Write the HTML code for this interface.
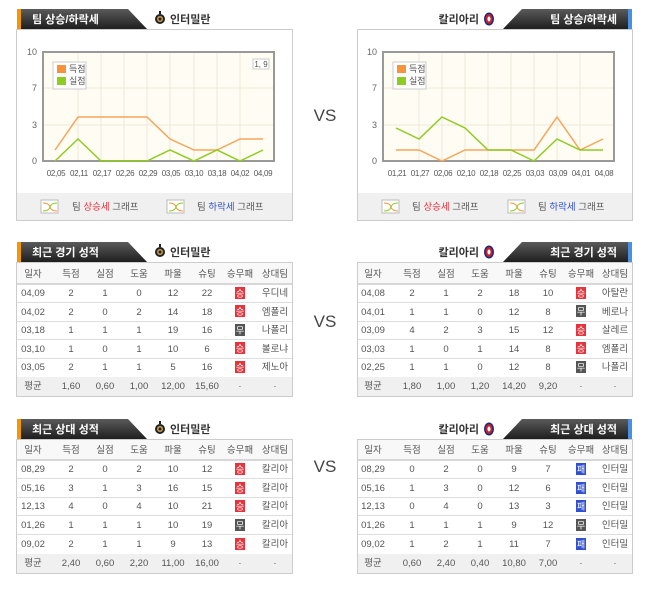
<!DOCTYPE html>
<html><head><meta charset="utf-8"><style>
html,body{margin:0;padding:0;background:#fff;width:650px;height:591px;overflow:hidden}
svg{display:block;font-family:"Liberation Sans","Noto Sans CJK KR",sans-serif}
</style></head><body>
<svg width="650" height="591" viewBox="0 0 650 591" xmlns="http://www.w3.org/2000/svg">
<defs>
<linearGradient id="tg" x1="0" y1="0" x2="0" y2="1"><stop offset="0" stop-color="#5a5a5a"/><stop offset="1" stop-color="#1e1e1e"/></linearGradient>
<g id="ico"><rect x="0" y="0" width="17" height="13" fill="#fff" stroke="#bbb"/><path d="M2 3 Q8 3 9 7 Q10 11 16 11" stroke="#f7933b" fill="none"/><path d="M2 11 Q8 11 9 7 Q10 3 16 3" stroke="#8dcc20" fill="none"/></g>
<g id="inter"><circle cx="0" cy="0" r="5" fill="#222"/><circle cx="0" cy="0" r="3" fill="#c9a24a"/><circle cx="0" cy="0" r="1.5" fill="#222"/><rect x="-1" y="-8" width="2" height="3" fill="#222"/></g>
<g id="cag"><ellipse cx="0" cy="0" rx="5" ry="6.5" fill="#1c2a7a"/><ellipse cx="0" cy="0" rx="3.5" ry="5" fill="#c8202a"/><ellipse cx="0" cy="0" rx="1.5" ry="2.5" fill="#fff"/></g>
<g id="W"><rect x="-5" y="-6" width="10" height="12" fill="#e8323c"/><text x="0" y="3.5" font-size="9" fill="#fff" text-anchor="middle">승</text></g>
<g id="D"><rect x="-5" y="-6" width="10" height="12" fill="#555"/><text x="0" y="3.5" font-size="9" fill="#fff" text-anchor="middle">무</text></g>
<g id="L"><rect x="-5" y="-6" width="10" height="12" fill="#3050d0"/><text x="0" y="3.5" font-size="9" fill="#fff" text-anchor="middle">패</text></g>
</defs>

<g font-size="17" fill="#444" text-anchor="middle"><text x="325" y="121">VS</text><text x="325" y="327">VS</text><text x="325" y="472">VS</text></g>

<!-- LEFT CHART -->
<rect x="16.5" y="29.5" width="276" height="191" fill="#fff" stroke="#ccc"/>
<polygon points="17,9 128,9 147,29 17,29" fill="url(#tg)"/><rect x="17" y="9" width="4" height="20" fill="#f39800"/>
<text x="32" y="23" font-size="11" font-weight="bold" fill="#fff">팀 상승/하락세</text>
<use href="#inter" x="160" y="19"/><text x="170" y="23" font-size="11" font-weight="bold" fill="#333">인터밀란</text>
<rect x="43" y="52" width="231" height="109" fill="#fffcf3" stroke="#999" stroke-width="2"/>
<g stroke="#eee8d8" stroke-width="1"><line x1="44" y1="88" x2="273" y2="88"/><line x1="44" y1="125" x2="273" y2="125"/>
<line x1="78" y1="53" x2="78" y2="160"/><line x1="101" y1="53" x2="101" y2="160"/><line x1="124" y1="53" x2="124" y2="160"/><line x1="147" y1="53" x2="147" y2="160"/><line x1="170" y1="53" x2="170" y2="160"/><line x1="194" y1="53" x2="194" y2="160"/><line x1="217" y1="53" x2="217" y2="160"/><line x1="240" y1="53" x2="240" y2="160"/></g>
<g font-size="9" fill="#666" text-anchor="end"><text x="37" y="55">10</text><text x="37" y="91">7</text><text x="37" y="128">3</text><text x="37" y="164">0</text></g>
<rect x="253" y="59" width="16" height="10" fill="#fff" stroke="#ccc"/><text x="261" y="67" font-size="8" fill="#555" text-anchor="middle">1, 9</text>
<rect x="53" y="62" width="33" height="27" fill="#fff" stroke="#ccc"/>
<rect x="57" y="65" width="9" height="8" fill="#f7933b"/><rect x="57" y="77" width="9" height="8" fill="#8dcc20"/>
<g font-size="9" fill="#555"><text x="69" y="72">득점</text><text x="69" y="84">실점</text></g>
<polyline points="55,150 78,117 101,117 124,117 147,117 170,139 194,150 217,150 240,139 263,139" fill="none" stroke="#f7a55a" stroke-width="1.5"/>
<polyline points="55,161 78,139 101,161 124,161 147,161 170,150 194,161 217,150 240,161 263,150" fill="none" stroke="#8dcc20" stroke-width="1.5"/>
<g font-size="8" fill="#555" text-anchor="middle" letter-spacing="-0.3"><text x="56" y="176">02,05</text><text x="79" y="176">02,11</text><text x="102" y="176">02,17</text><text x="125" y="176">02,26</text><text x="148" y="176">02,29</text><text x="171" y="176">03,05</text><text x="194" y="176">03,10</text><text x="217" y="176">03,18</text><text x="240" y="176">04,02</text><text x="263" y="176">04,09</text></g>
<rect x="17" y="193" width="275" height="27" fill="#f0f0f0"/>
<use href="#ico" x="41" y="200"/><text x="72" y="210" font-size="9.5" fill="#555">팀 <tspan fill="#e8323c">상승세</tspan> 그래프</text>
<use href="#ico" x="167" y="200"/><text x="197" y="210" font-size="9.5" fill="#555">팀 <tspan fill="#3050d0">하락세</tspan> 그래프</text>

<!-- RIGHT CHART -->
<rect x="357.5" y="29.5" width="275" height="191" fill="#fff" stroke="#ccc"/>
<polygon points="522,9 632,9 632,29 503,29" fill="url(#tg)"/><rect x="628" y="9" width="4" height="20" fill="#4a90e2"/>
<text x="617" y="23" font-size="11" font-weight="bold" fill="#fff" text-anchor="end">팀 상승/하락세</text>
<text x="479" y="23" font-size="11" font-weight="bold" fill="#333" text-anchor="end">칼리아리</text><use href="#cag" x="489" y="19"/>
<rect x="383" y="52" width="231" height="109" fill="#fffcf3" stroke="#999" stroke-width="2"/>
<g stroke="#eee8d8" stroke-width="1"><line x1="384" y1="88" x2="613" y2="88"/><line x1="384" y1="125" x2="613" y2="125"/>
<line x1="419" y1="53" x2="419" y2="160"/><line x1="442" y1="53" x2="442" y2="160"/><line x1="465" y1="53" x2="465" y2="160"/><line x1="488" y1="53" x2="488" y2="160"/><line x1="511" y1="53" x2="511" y2="160"/><line x1="534" y1="53" x2="534" y2="160"/><line x1="557" y1="53" x2="557" y2="160"/><line x1="580" y1="53" x2="580" y2="160"/></g>
<g font-size="9" fill="#666" text-anchor="end"><text x="377" y="55">10</text><text x="377" y="91">7</text><text x="377" y="128">3</text><text x="377" y="164">0</text></g>
<rect x="393" y="62" width="33" height="27" fill="#fff" stroke="#ccc"/>
<rect x="397" y="65" width="9" height="8" fill="#f7933b"/><rect x="397" y="77" width="9" height="8" fill="#8dcc20"/>
<g font-size="9" fill="#555"><text x="409" y="72">득점</text><text x="409" y="84">실점</text></g>
<polyline points="396,150 419,150 442,161 465,150 488,150 511,150 534,150 557,117 580,150 603,139" fill="none" stroke="#f7a55a" stroke-width="1.5"/>
<polyline points="396,128 419,139 442,117 465,128 488,150 511,150 534,161 557,139 580,150 603,150" fill="none" stroke="#8dcc20" stroke-width="1.5"/>
<g font-size="8" fill="#555" text-anchor="middle" letter-spacing="-0.3"><text x="397" y="176">01,21</text><text x="420" y="176">01,27</text><text x="443" y="176">02,06</text><text x="466" y="176">02,10</text><text x="489" y="176">02,18</text><text x="512" y="176">02,25</text><text x="535" y="176">03,03</text><text x="558" y="176">03,09</text><text x="581" y="176">04,01</text><text x="604" y="176">04,08</text></g>
<rect x="358" y="193" width="274" height="27" fill="#f0f0f0"/>
<use href="#ico" x="382" y="200"/><text x="412" y="210" font-size="9.5" fill="#555">팀 <tspan fill="#e8323c">상승세</tspan> 그래프</text>
<use href="#ico" x="508" y="200"/><text x="538" y="210" font-size="9.5" fill="#555">팀 <tspan fill="#3050d0">하락세</tspan> 그래프</text>

<!-- LEFT TABLE 1 -->
<polygon points="17,242 128,242 147,262 17,262" fill="url(#tg)"/><rect x="17" y="242" width="4" height="20" fill="#f39800"/>
<text x="32" y="256" font-size="11" font-weight="bold" fill="#fff">최근 경기 성적</text>
<use href="#inter" x="160" y="252"/><text x="170" y="256" font-size="11" font-weight="bold" fill="#333">인터밀란</text>
<rect x="16.5" y="262.5" width="276" height="134" fill="#fff" stroke="#ccc"/>
<rect x="17" y="263" width="275" height="21" fill="#f8f8f8"/><rect x="17" y="377" width="275" height="19" fill="#f0f0f0"/>
<g stroke="#ddd"><line x1="17" y1="284" x2="292" y2="284" stroke="#ccc" stroke-width="1.5"/><line x1="17" y1="302.5" x2="292" y2="302.5"/><line x1="17" y1="321.5" x2="292" y2="321.5"/><line x1="17" y1="339.5" x2="292" y2="339.5"/><line x1="17" y1="358.5" x2="292" y2="358.5"/></g>
<g font-size="9.5" fill="#555" text-anchor="middle">
<text x="33" y="277">일자</text><text x="71" y="277">득점</text><text x="105" y="277">실점</text><text x="139" y="277">도움</text><text x="173" y="277">파울</text><text x="207" y="277">슈팅</text><text x="240" y="277">승무패</text><text x="275" y="277">상대팀</text>
<text x="33" y="296">04,09</text><text x="71" y="296">2</text><text x="105" y="296">1</text><text x="139" y="296">0</text><text x="173" y="296">12</text><text x="207" y="296">22</text><text x="275" y="296">우디네</text>
<text x="33" y="315">04,02</text><text x="71" y="315">2</text><text x="105" y="315">0</text><text x="139" y="315">2</text><text x="173" y="315">14</text><text x="207" y="315">18</text><text x="275" y="315">엠폴리</text>
<text x="33" y="333">03,18</text><text x="71" y="333">1</text><text x="105" y="333">1</text><text x="139" y="333">1</text><text x="173" y="333">19</text><text x="207" y="333">16</text><text x="275" y="333">나폴리</text>
<text x="33" y="352">03,10</text><text x="71" y="352">1</text><text x="105" y="352">0</text><text x="139" y="352">1</text><text x="173" y="352">10</text><text x="207" y="352">6</text><text x="275" y="352">볼로냐</text>
<text x="33" y="370">03,05</text><text x="71" y="370">2</text><text x="105" y="370">1</text><text x="139" y="370">1</text><text x="173" y="370">5</text><text x="207" y="370">16</text><text x="275" y="370">제노아</text>
<text x="33" y="389">평균</text><text x="71" y="389">1,60</text><text x="105" y="389">0,60</text><text x="139" y="389">1,00</text><text x="173" y="389">12,00</text><text x="207" y="389">15,60</text><text x="240" y="389">·</text><text x="275" y="389">·</text>
</g>
<use href="#W" x="240" y="293"/><use href="#W" x="240" y="311"/><use href="#D" x="240" y="330"/><use href="#W" x="240" y="348"/><use href="#W" x="240" y="367"/>

<!-- RIGHT TABLE 1 -->
<polygon points="522,242 632,242 632,262 503,262" fill="url(#tg)"/><rect x="628" y="242" width="4" height="20" fill="#4a90e2"/>
<text x="617" y="256" font-size="11" font-weight="bold" fill="#fff" text-anchor="end">최근 경기 성적</text>
<text x="479" y="256" font-size="11" font-weight="bold" fill="#333" text-anchor="end">칼리아리</text><use href="#cag" x="489" y="252"/>
<rect x="357.5" y="262.5" width="275" height="134" fill="#fff" stroke="#ccc"/>
<rect x="358" y="263" width="274" height="21" fill="#f8f8f8"/><rect x="358" y="377" width="274" height="19" fill="#f0f0f0"/>
<g stroke="#ddd"><line x1="358" y1="284" x2="632" y2="284" stroke="#ccc" stroke-width="1.5"/><line x1="358" y1="302.5" x2="632" y2="302.5"/><line x1="358" y1="321.5" x2="632" y2="321.5"/><line x1="358" y1="339.5" x2="632" y2="339.5"/><line x1="358" y1="358.5" x2="632" y2="358.5"/></g>
<g font-size="9.5" fill="#555" text-anchor="middle">
<text x="373" y="277">일자</text><text x="412" y="277">득점</text><text x="446" y="277">실점</text><text x="480" y="277">도움</text><text x="514" y="277">파울</text><text x="548" y="277">슈팅</text><text x="581" y="277">승무패</text><text x="615" y="277">상대팀</text>
<text x="373" y="296">04,08</text><text x="412" y="296">2</text><text x="446" y="296">1</text><text x="480" y="296">2</text><text x="514" y="296">18</text><text x="548" y="296">10</text><text x="615" y="296">아탈란</text>
<text x="373" y="315">04,01</text><text x="412" y="315">1</text><text x="446" y="315">1</text><text x="480" y="315">0</text><text x="514" y="315">12</text><text x="548" y="315">8</text><text x="615" y="315">베로나</text>
<text x="373" y="333">03,09</text><text x="412" y="333">4</text><text x="446" y="333">2</text><text x="480" y="333">3</text><text x="514" y="333">15</text><text x="548" y="333">12</text><text x="615" y="333">살레르</text>
<text x="373" y="352">03,03</text><text x="412" y="352">1</text><text x="446" y="352">0</text><text x="480" y="352">1</text><text x="514" y="352">14</text><text x="548" y="352">8</text><text x="615" y="352">엠폴리</text>
<text x="373" y="370">02,25</text><text x="412" y="370">1</text><text x="446" y="370">1</text><text x="480" y="370">0</text><text x="514" y="370">12</text><text x="548" y="370">8</text><text x="615" y="370">나폴리</text>
<text x="373" y="389">평균</text><text x="412" y="389">1,80</text><text x="446" y="389">1,00</text><text x="480" y="389">1,20</text><text x="514" y="389">14,20</text><text x="548" y="389">9,20</text><text x="581" y="389">·</text><text x="615" y="389">·</text>
</g>
<use href="#W" x="581" y="293"/><use href="#D" x="581" y="311"/><use href="#W" x="581" y="330"/><use href="#W" x="581" y="348"/><use href="#D" x="581" y="367"/>

<!-- LEFT TABLE 2 -->
<polygon points="17,419 128,419 147,439 17,439" fill="url(#tg)"/><rect x="17" y="419" width="4" height="20" fill="#f39800"/>
<text x="32" y="433" font-size="11" font-weight="bold" fill="#fff">최근 상대 성적</text>
<use href="#inter" x="160" y="429"/><text x="170" y="433" font-size="11" font-weight="bold" fill="#333">인터밀란</text>
<rect x="16.5" y="439.5" width="276" height="134" fill="#fff" stroke="#ccc"/>
<rect x="17" y="440" width="275" height="20" fill="#f8f8f8"/><rect x="17" y="554" width="275" height="19" fill="#f0f0f0"/>
<g stroke="#ddd"><line x1="17" y1="460" x2="292" y2="460" stroke="#ccc" stroke-width="1.5"/><line x1="17" y1="478.5" x2="292" y2="478.5"/><line x1="17" y1="497.5" x2="292" y2="497.5"/><line x1="17" y1="515.5" x2="292" y2="515.5"/><line x1="17" y1="534.5" x2="292" y2="534.5"/></g>
<g font-size="9.5" fill="#555" text-anchor="middle">
<text x="33" y="453">일자</text><text x="71" y="453">득점</text><text x="105" y="453">실점</text><text x="139" y="453">도움</text><text x="173" y="453">파울</text><text x="207" y="453">슈팅</text><text x="240" y="453">승무패</text><text x="275" y="453">상대팀</text>
<text x="33" y="472">08,29</text><text x="71" y="472">2</text><text x="105" y="472">0</text><text x="139" y="472">2</text><text x="173" y="472">10</text><text x="207" y="472">12</text><text x="275" y="472">칼리아</text>
<text x="33" y="491">05,16</text><text x="71" y="491">3</text><text x="105" y="491">1</text><text x="139" y="491">3</text><text x="173" y="491">16</text><text x="207" y="491">15</text><text x="275" y="491">칼리아</text>
<text x="33" y="509">12,13</text><text x="71" y="509">4</text><text x="105" y="509">0</text><text x="139" y="509">4</text><text x="173" y="509">10</text><text x="207" y="509">21</text><text x="275" y="509">칼리아</text>
<text x="33" y="528">01,26</text><text x="71" y="528">1</text><text x="105" y="528">1</text><text x="139" y="528">1</text><text x="173" y="528">10</text><text x="207" y="528">19</text><text x="275" y="528">칼리아</text>
<text x="33" y="547">09,02</text><text x="71" y="547">2</text><text x="105" y="547">1</text><text x="139" y="547">1</text><text x="173" y="547">9</text><text x="207" y="547">13</text><text x="275" y="547">칼리아</text>
<text x="33" y="566">평균</text><text x="71" y="566">2,40</text><text x="105" y="566">0,60</text><text x="139" y="566">2,20</text><text x="173" y="566">11,00</text><text x="207" y="566">16,00</text><text x="240" y="566">·</text><text x="275" y="566">·</text>
</g>
<use href="#W" x="240" y="469"/><use href="#W" x="240" y="488"/><use href="#W" x="240" y="506"/><use href="#D" x="240" y="525"/><use href="#W" x="240" y="544"/>

<!-- RIGHT TABLE 2 -->
<polygon points="522,419 632,419 632,439 503,439" fill="url(#tg)"/><rect x="628" y="419" width="4" height="20" fill="#4a90e2"/>
<text x="617" y="433" font-size="11" font-weight="bold" fill="#fff" text-anchor="end">최근 상대 성적</text>
<text x="479" y="433" font-size="11" font-weight="bold" fill="#333" text-anchor="end">칼리아리</text><use href="#cag" x="489" y="429"/>
<rect x="357.5" y="439.5" width="275" height="134" fill="#fff" stroke="#ccc"/>
<rect x="358" y="440" width="274" height="20" fill="#f8f8f8"/><rect x="358" y="554" width="274" height="19" fill="#f0f0f0"/>
<g stroke="#ddd"><line x1="358" y1="460" x2="632" y2="460" stroke="#ccc" stroke-width="1.5"/><line x1="358" y1="478.5" x2="632" y2="478.5"/><line x1="358" y1="497.5" x2="632" y2="497.5"/><line x1="358" y1="515.5" x2="632" y2="515.5"/><line x1="358" y1="534.5" x2="632" y2="534.5"/></g>
<g font-size="9.5" fill="#555" text-anchor="middle">
<text x="373" y="453">일자</text><text x="412" y="453">득점</text><text x="446" y="453">실점</text><text x="480" y="453">도움</text><text x="514" y="453">파울</text><text x="548" y="453">슈팅</text><text x="581" y="453">승무패</text><text x="615" y="453">상대팀</text>
<text x="373" y="472">08,29</text><text x="412" y="472">0</text><text x="446" y="472">2</text><text x="480" y="472">0</text><text x="514" y="472">9</text><text x="548" y="472">7</text><text x="615" y="472">인터밀</text>
<text x="373" y="491">05,16</text><text x="412" y="491">1</text><text x="446" y="491">3</text><text x="480" y="491">0</text><text x="514" y="491">12</text><text x="548" y="491">6</text><text x="615" y="491">인터밀</text>
<text x="373" y="509">12,13</text><text x="412" y="509">0</text><text x="446" y="509">4</text><text x="480" y="509">0</text><text x="514" y="509">13</text><text x="548" y="509">3</text><text x="615" y="509">인터밀</text>
<text x="373" y="528">01,26</text><text x="412" y="528">1</text><text x="446" y="528">1</text><text x="480" y="528">1</text><text x="514" y="528">9</text><text x="548" y="528">12</text><text x="615" y="528">인터밀</text>
<text x="373" y="547">09,02</text><text x="412" y="547">1</text><text x="446" y="547">2</text><text x="480" y="547">1</text><text x="514" y="547">11</text><text x="548" y="547">7</text><text x="615" y="547">인터밀</text>
<text x="373" y="566">평균</text><text x="412" y="566">0,60</text><text x="446" y="566">2,40</text><text x="480" y="566">0,40</text><text x="514" y="566">10,80</text><text x="548" y="566">7,00</text><text x="581" y="566">·</text><text x="615" y="566">·</text>
</g>
<use href="#L" x="581" y="469"/><use href="#L" x="581" y="488"/><use href="#L" x="581" y="506"/><use href="#D" x="581" y="525"/><use href="#L" x="581" y="544"/>
</svg>
</body></html>
